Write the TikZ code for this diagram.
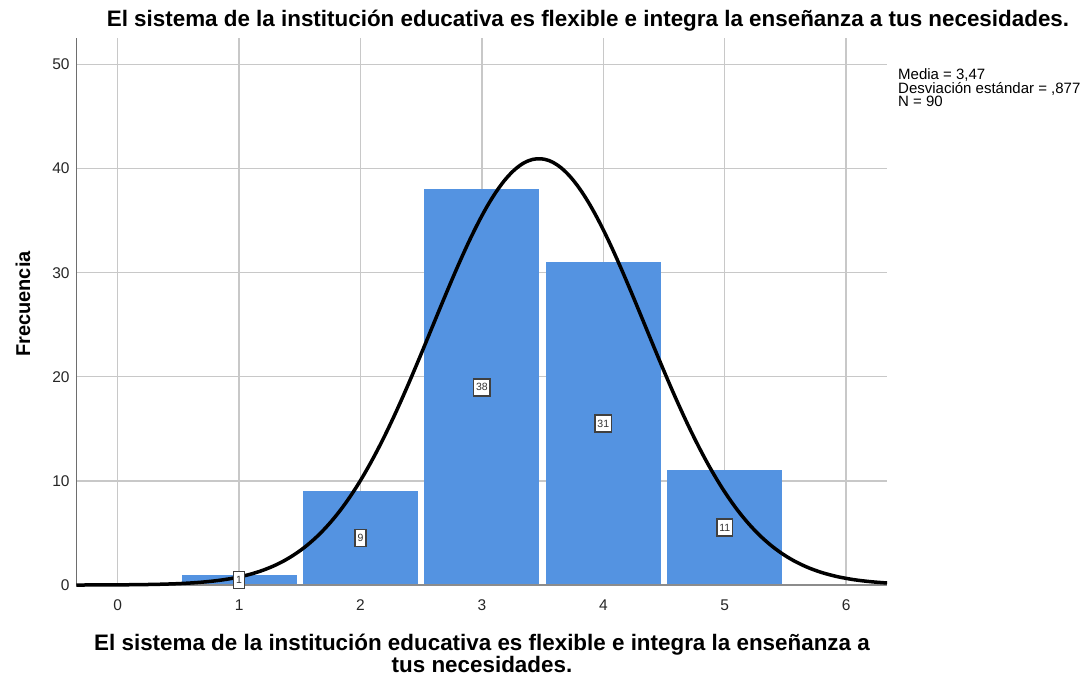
\documentclass[tikz,border=0pt]{standalone}
\usepackage{fontspec}
\setmainfont{Liberation Sans}
\definecolor{barblue}{RGB}{84,147,225}
\definecolor{gridgray}{RGB}{200,200,200}
\definecolor{axisgray}{RGB}{110,110,110}
\begin{document}
\begin{tikzpicture}[x=1pt,y=-1pt,
  bar/.style={fill=barblue,draw=none},
  grid line/.style={draw=gridgray,line width=1.3pt},
  tick label/.style={font=\fontsize{15.5}{15.5}\selectfont,text=black!85,inner sep=0pt},
  count box/.style={draw=black!75,fill=white,line width=1.6pt,inner sep=2.5pt,minimum height=17pt,font=\fontsize{10.5}{10.5}\selectfont,text=black!80},
  curve/.style={line width=3.5pt,black}]
\useasboundingbox (0,0) rectangle (1091,679);
\node[font=\bfseries\fontsize{22.4}{22.4}\selectfont,anchor=base] (title) at (588,27) {El sistema de la institución educativa es flexible e integra la enseñanza a tus necesidades.};
\node[rotate=90,font=\bfseries\fontsize{20}{20}\selectfont] (ylab) at (23,304) {Frecuencia};
\node[font=\bfseries\fontsize{22.4}{22}\selectfont,align=center,anchor=base] (xlab) at (482,672) {El sistema de la institución educativa es flexible e integra la enseñanza a\\tus necesidades.};
\node[anchor=base west,align=left,font=\fontsize{15}{13.5}\selectfont,inner sep=0pt] (stats) at (898,107) {Media = 3,47\\Desviación estándar = ,877\\N = 90};
\begin{scope}[shift={(117.7pt,-585pt)},x=121.4pt,y=10.41pt]
  % grid
  \foreach \v in {0,...,6} \draw[grid line] (\v,0) -- (\v,52.5);
  \foreach \f in {10,20,...,50} \draw[grid line] (-0.34,\f) -- (6.34,\f);
  \foreach \f in {0,10,...,50} \node[tick label,anchor=east] at (-0.395,\f) {\f};
  \foreach \v in {0,...,6} \node[tick label] at (\v,-1.9) {\v};
  % bars
  \foreach \v/\n in {1/1,2/9,3/38,4/31,5/11}
    \fill[bar] (\v-0.473,0) rectangle (\v+0.473,\n);
  % axes
  \draw[gridgray!70!black,line width=1.3pt] (-0.34,0) coordinate (o) -- (6.34,0) coordinate (xe);
  \draw[axisgray,line width=1.8pt] (-0.34,0) -- (-0.34,52.5) coordinate (ye);
  % curve
  \draw[curve,domain=-0.34:6.34,samples=200,smooth] plot (\x,{40.94*exp(-((\x-3.47)^2)/(2*0.877*0.877))});
  % count labels
  \foreach \v/\n in {1/1,2/9,3/38,4/31,5/11}
    \node[count box] (c\v) at (\v,\n/2) {\n};
\end{scope}
\end{tikzpicture}
\end{document}
